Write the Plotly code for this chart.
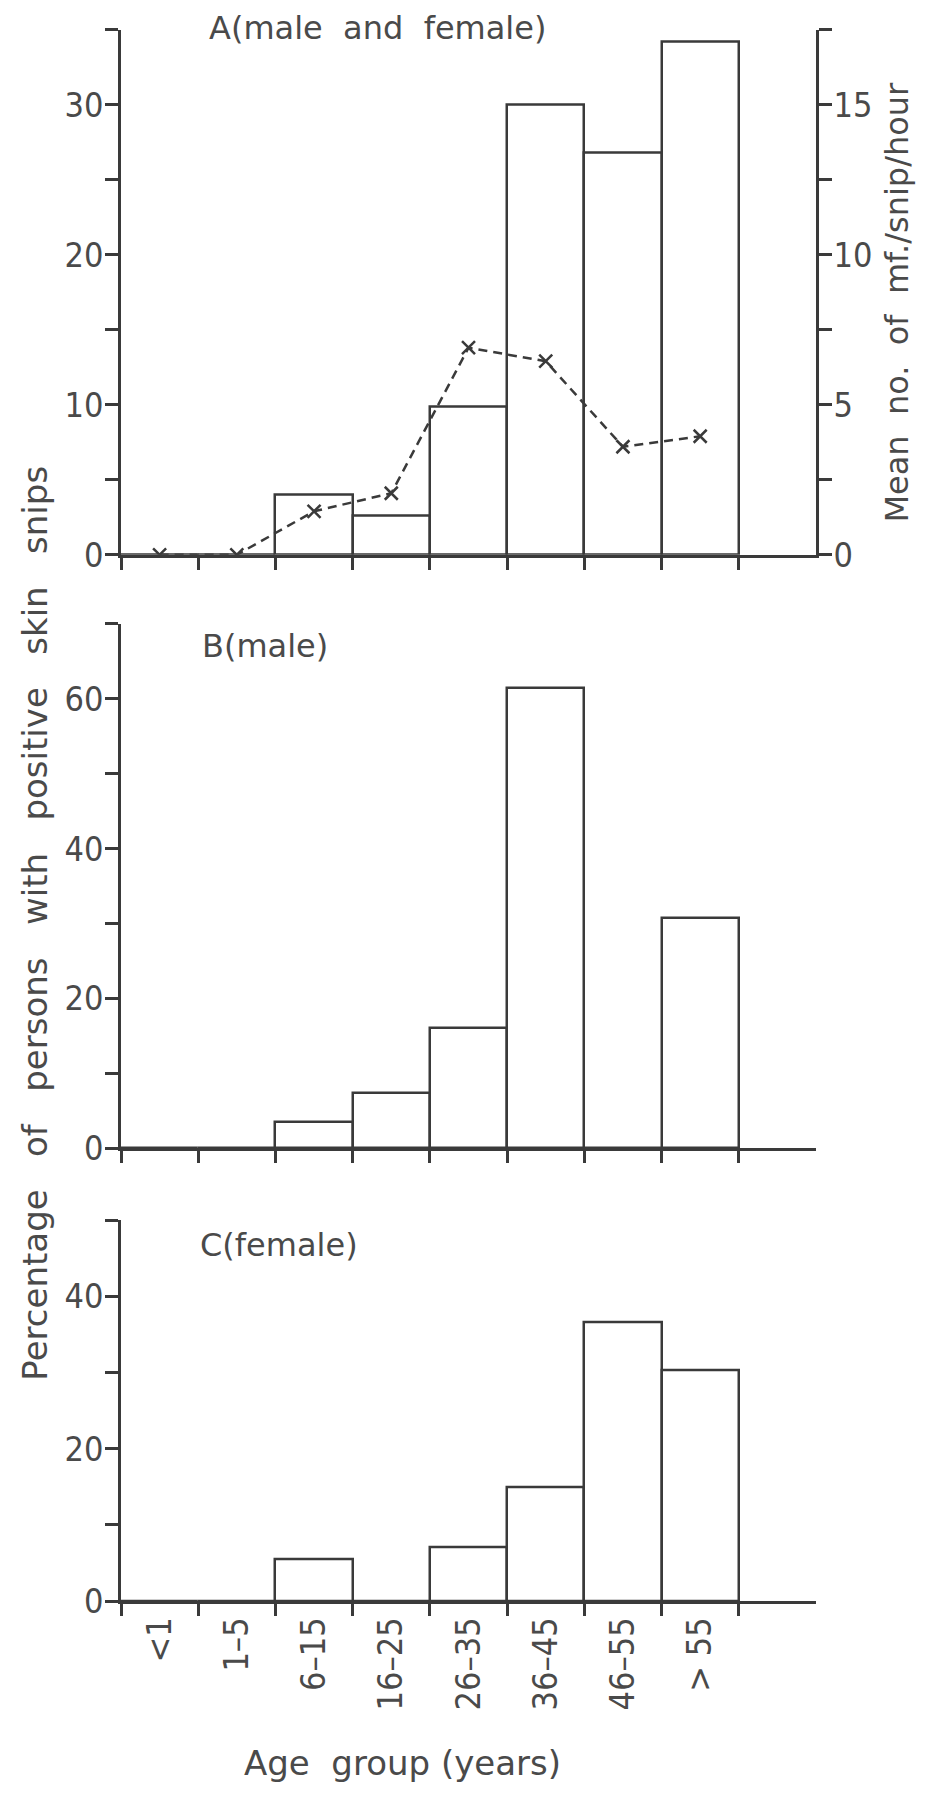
import plotly.graph_objects as go

# ---- data ----
age_groups = ["<1", "1–5", "6–15", "16–25", "26–35", "36–45", "46–55", "> 55"]
pct_all = [0, 0, 4.0, 2.6, 9.9, 30.0, 26.8, 34.2]          # panel A, left axis
mean_mf = [0, 0, 1.45, 2.05, 6.9, 6.45, 3.6, 3.95]          # panel A, right axis
pct_male = [0, 0, 3.5, 7.3, 16.1, 61.5, 0, 30.7]            # panel B
pct_female = [0, 0, 5.5, 0, 7.1, 14.9, 36.6, 30.3]          # panel C

TICKFONT = "DejaVu Sans Condensed, DejaVu Sans, sans-serif"
TITLEFONT = "DejaVu Sans, sans-serif"
LINE = "#3a3a3a"
TXT = "#4a4a4a"
W, H = 928, 1802
NB = "\u00a0"

fig = go.Figure()

bar_style = dict(marker=dict(color="white", line=dict(color=LINE, width=2.5)), width=1, showlegend=False,
                 hoverinfo="x+y")
fig.add_trace(go.Bar(x=age_groups, y=pct_all, xaxis="x", yaxis="y", **bar_style))
fig.add_trace(go.Scatter(x=age_groups, y=mean_mf, xaxis="x", yaxis="y4", mode="lines+markers",
                         line=dict(color=LINE, width=2.5, dash="9px,6px"),
                         marker=dict(symbol="x-thin", size=13, line=dict(color=LINE, width=2.5)),
                         showlegend=False))
fig.add_trace(go.Bar(x=age_groups, y=pct_male, xaxis="x2", yaxis="y2", **bar_style))
fig.add_trace(go.Bar(x=age_groups, y=pct_female, xaxis="x3", yaxis="y3", **bar_style))

xdom = [121 / W, 816 / W]

def xax(anchor, labels):
    d = dict(domain=xdom, anchor=anchor, type="category", categoryorder="array",
             categoryarray=age_groups, range=[-0.5, 8.5], tickson="boundaries",
             showline=True, linecolor=LINE, linewidth=2.5, ticks="outside", ticklen=12,
             tickwidth=2.5, tickcolor=LINE, showgrid=False, zeroline=False,
             showticklabels=labels, tickfont=dict(family=TICKFONT, size=34, color=TXT))
    if labels:
        d.update(tickangle=-90)
    return d

def yax(dom, rng, major, minor):
    vals = sorted(set(major + minor))
    return dict(domain=dom, range=rng, tickvals=vals,
                ticktext=[str(v) if v in major else "" for v in vals],
                showline=True, linecolor=LINE, linewidth=2.5, ticks="outside", ticklen=13,
                tickwidth=2.5, tickcolor=LINE, showgrid=False, zeroline=False,
                ticklabelstandoff=-5,
                tickfont=dict(family=TICKFONT, size=34, color=TXT))

def dom(top_px, bottom_px):
    return [1 - bottom_px / H, 1 - top_px / H]

fig.update_layout(
    width=W, height=H, margin=dict(l=0, r=0, t=0, b=0),
    paper_bgcolor="white", plot_bgcolor="white", bargap=0,
    xaxis=xax("y", False),
    xaxis2=xax("y2", False),
    xaxis3=xax("y3", True),
    yaxis=yax(dom(30, 561), [0, 35], [0, 10, 20, 30], [5, 15, 25, 35]),
    yaxis2=yax(dom(631, 1161), [0, 70], [0, 20, 40, 60], [10, 30, 50, 70]),
    yaxis3=yax(dom(1234, 1619), [0, 50], [0, 20, 40], [10, 30, 50]),
    yaxis4=dict(overlaying="y", anchor="x", side="right", range=[0, 17.5],
                tickvals=[0, 2.5, 5, 7.5, 10, 12.5, 15, 17.5],
                ticktext=["0", "", "5", "", "10", "", "15", ""],
                showline=True, linecolor=LINE, linewidth=2.5, ticks="outside", ticklen=13,
                tickwidth=2.5, tickcolor=LINE, showgrid=False, zeroline=False,
                ticklabelstandoff=-5,
                tickfont=dict(family=TICKFONT, size=34, color=TXT)),
)

def ann(size):
    return dict(xref="paper", yref="paper", showarrow=False,
                font=dict(family=TITLEFONT, size=size, color=TXT))

fig.add_annotation(text=f"A(male{NB*2}and{NB*2}female)", x=207 / W, y=1 - 28 / H,
                   xanchor="left", yanchor="middle", **ann(32))
fig.add_annotation(text="B(male)", x=200 / W, y=1 - 653 / H, xanchor="left", yanchor="middle", **ann(32))
fig.add_annotation(text="C(female)", x=198 / W, y=1 - 1259 / H, xanchor="left", yanchor="middle", **ann(32))
left_title = (NB * 3).join(["Percentage", "of", "persons", "with", "positive", "skin", "snips"])
fig.add_annotation(text=left_title, x=35 / W, y=1 - 934 / H, textangle=-90,
                   xanchor="center", yanchor="middle", **ann(34))
right_title = (NB * 2).join(["Mean", "no.", "of", "mf./snip/hour"])
fig.add_annotation(text=right_title, x=897 / W, y=1 - 306 / H, textangle=-90,
                   xanchor="center", yanchor="middle", **ann(32))
fig.add_annotation(text=f"Age{NB*2}group (years)", x=402 / W, y=1 - 1783 / H,
                   xanchor="center", yanchor="middle", **ann(34))

fig.write_html("out.html")
